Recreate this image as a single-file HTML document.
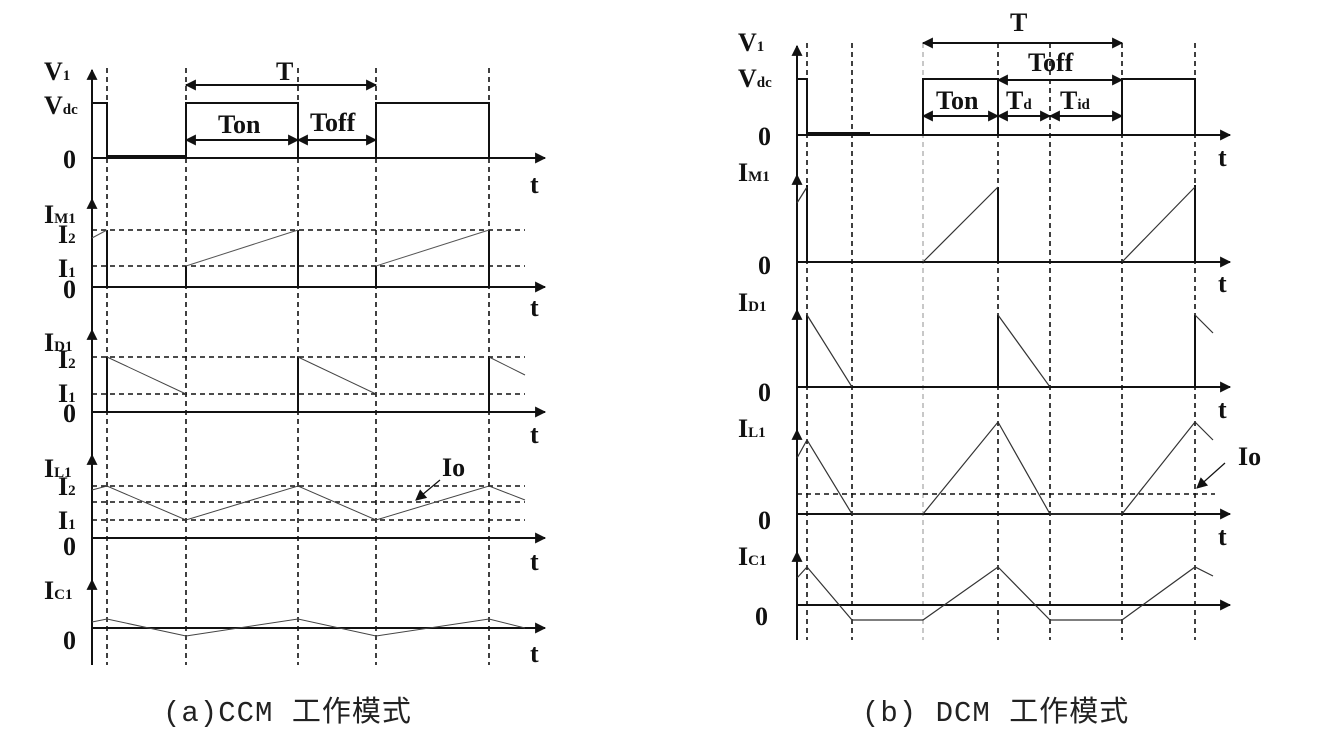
<!DOCTYPE html>
<html><head><meta charset="utf-8"><style>
html,body{margin:0;padding:0;background:#fff;}
svg{display:block;}
.l{font-family:"Liberation Serif",serif;font-weight:bold;font-size:26px;fill:#111;}
.s{font-size:15px;}
.c{font-family:"Liberation Mono","Noto Sans CJK SC",monospace;font-size:29px;fill:#222;letter-spacing:1px;}
</style></head><body>
<svg width="1336" height="734" viewBox="0 0 1336 734" xmlns="http://www.w3.org/2000/svg">
<defs>
<marker id="a" viewBox="0 0 10 10" refX="9" refY="5" markerWidth="16" markerHeight="11" markerUnits="userSpaceOnUse" orient="auto-start-reverse"><path d="M0,0L10,5L0,10z" fill="#111"/></marker>
</defs>
<g stroke="#111" stroke-width="2" fill="none">
<g stroke-dasharray="5,4" stroke-width="1.6">
<line x1="107" y1="68" x2="107" y2="665"/><line x1="186" y1="68" x2="186" y2="665"/><line x1="298" y1="68" x2="298" y2="665"/><line x1="376" y1="68" x2="376" y2="665"/><line x1="489" y1="68" x2="489" y2="665"/>
<line x1="92" y1="230" x2="525" y2="230"/><line x1="92" y1="266" x2="525" y2="266"/>
<line x1="92" y1="357" x2="525" y2="357"/><line x1="92" y1="394" x2="525" y2="394"/>
<line x1="92" y1="486" x2="525" y2="486"/><line x1="92" y1="502" x2="525" y2="502"/><line x1="92" y1="520" x2="525" y2="520"/>
</g>
<line x1="92" y1="665" x2="92" y2="70" marker-end="url(#a)"/>
<line x1="92" y1="158" x2="545" y2="158" marker-end="url(#a)"/>
<line x1="92" y1="200" x2="92" y2="199" marker-end="url(#a)"/>
<line x1="92" y1="287" x2="545" y2="287" marker-end="url(#a)"/>
<line x1="92" y1="331" x2="92" y2="330" marker-end="url(#a)"/>
<line x1="92" y1="412" x2="545" y2="412" marker-end="url(#a)"/>
<line x1="92" y1="456" x2="92" y2="455" marker-end="url(#a)"/>
<line x1="92" y1="538" x2="545" y2="538" marker-end="url(#a)"/>
<line x1="92" y1="581" x2="92" y2="580" marker-end="url(#a)"/>
<line x1="92" y1="628" x2="545" y2="628" marker-end="url(#a)"/>
<polyline points="92,103 107,103 107,158"/>
<line x1="107" y1="157" x2="186" y2="157" stroke-width="4"/>
<polyline points="186,158 186,103 298,103 298,158"/>
<polyline points="376,158 376,103 489,103 489,158"/>
<line x1="186" y1="85" x2="376" y2="85" marker-start="url(#a)" marker-end="url(#a)"/>
<line x1="186" y1="140" x2="298" y2="140" marker-start="url(#a)" marker-end="url(#a)"/>
<line x1="298" y1="140" x2="376" y2="140" marker-start="url(#a)" marker-end="url(#a)"/>
<line x1="107" y1="230" x2="107" y2="287"/><line x1="186" y1="266" x2="186" y2="287"/><line x1="298" y1="230" x2="298" y2="287"/><line x1="376" y1="266" x2="376" y2="287"/><line x1="489" y1="230" x2="489" y2="287"/>
<g stroke-width="1" stroke="#555"><line x1="92" y1="238" x2="107" y2="230"/><line x1="186" y1="266" x2="298" y2="230"/><line x1="376" y1="266" x2="489" y2="230"/></g>
<line x1="107" y1="357" x2="107" y2="412"/><line x1="298" y1="357" x2="298" y2="412"/><line x1="489" y1="357" x2="489" y2="412"/>
<g stroke-width="1" stroke="#444"><line x1="107" y1="357" x2="186" y2="394"/><line x1="298" y1="357" x2="376" y2="394"/><line x1="489" y1="357" x2="525" y2="375"/></g>
<polyline stroke-width="1" stroke="#444" points="92,490 107,486 186,520 298,486 376,520 489,486 525,500"/>
<line x1="440" y1="480" x2="416" y2="500" stroke-width="1.2" marker-end="url(#a)"/>
<polyline stroke-width="1" stroke="#444" points="92,622 107,619 186,636 298,619 376,636 489,619 525,628"/>

<g stroke-dasharray="5,4" stroke-width="1.6">
<line x1="807" y1="43" x2="807" y2="640"/><line x1="852" y1="43" x2="852" y2="640"/><line x1="923" y1="43" x2="923" y2="640" stroke="#bbb"/><line x1="998" y1="43" x2="998" y2="640"/><line x1="1050" y1="43" x2="1050" y2="640"/><line x1="1122" y1="43" x2="1122" y2="640"/><line x1="1195" y1="43" x2="1195" y2="640"/>
<line x1="797" y1="494" x2="1215" y2="494"/>
</g>
<line x1="797" y1="640" x2="797" y2="46" marker-end="url(#a)"/>
<line x1="797" y1="135" x2="1230" y2="135" marker-end="url(#a)"/>
<line x1="797" y1="176" x2="797" y2="175" marker-end="url(#a)"/>
<line x1="797" y1="262" x2="1230" y2="262" marker-end="url(#a)"/>
<line x1="797" y1="311" x2="797" y2="310" marker-end="url(#a)"/>
<line x1="797" y1="387" x2="1230" y2="387" marker-end="url(#a)"/>
<line x1="797" y1="431" x2="797" y2="430" marker-end="url(#a)"/>
<line x1="797" y1="514" x2="1230" y2="514" marker-end="url(#a)"/>
<line x1="797" y1="553" x2="797" y2="552" marker-end="url(#a)"/>
<line x1="797" y1="605" x2="1230" y2="605" marker-end="url(#a)"/>
<polyline points="797,79 807,79 807,135"/>
<line x1="807" y1="134" x2="870" y2="134" stroke-width="4"/>
<polyline points="923,135 923,79 998,79 998,135"/>
<polyline points="1122,135 1122,79 1195,79 1195,135"/>
<line x1="923" y1="43" x2="1122" y2="43" marker-start="url(#a)" marker-end="url(#a)"/>
<line x1="998" y1="80" x2="1122" y2="80" marker-start="url(#a)" marker-end="url(#a)"/>
<line x1="923" y1="116" x2="998" y2="116" marker-start="url(#a)" marker-end="url(#a)"/>
<line x1="998" y1="116" x2="1050" y2="116" marker-start="url(#a)" marker-end="url(#a)"/>
<line x1="1050" y1="116" x2="1122" y2="116" marker-start="url(#a)" marker-end="url(#a)"/>
<line x1="807" y1="185" x2="807" y2="262"/><line x1="998" y1="187" x2="998" y2="262"/><line x1="1195" y1="185" x2="1195" y2="262"/>
<g stroke-width="1.2" stroke="#333"><line x1="797" y1="203" x2="807" y2="187"/><line x1="923" y1="262" x2="998" y2="187"/><line x1="1122" y1="262" x2="1195" y2="187"/></g>
<line x1="807" y1="315" x2="807" y2="387"/><line x1="998" y1="315" x2="998" y2="387"/><line x1="1195" y1="315" x2="1195" y2="387"/>
<g stroke-width="1.2" stroke="#333"><line x1="807" y1="315" x2="852" y2="387"/><line x1="998" y1="315" x2="1050" y2="387"/><line x1="1195" y1="315" x2="1213" y2="333"/></g>
<polyline stroke-width="1.2" stroke="#333" points="797,458 807,440 852,514 923,514 998,422 1050,514 1122,514 1195,422 1213,440"/>
<line x1="1225" y1="463" x2="1197" y2="488" stroke-width="1.2" marker-end="url(#a)"/>
<polyline stroke-width="1.2" stroke="#333" points="797,578 807,567 852,620 923,620 998,567 1050,620 1122,620 1195,567 1213,576"/>
</g>
<text class="l" x="44" y="80">V<tspan class="s">1</tspan></text>
<text class="l" x="44" y="114">V<tspan class="s">dc</tspan></text>
<text class="l" x="63" y="168">0</text>
<text class="l" x="530" y="193">t</text>
<text class="l" x="276" y="80">T</text>
<text class="l" x="218" y="133">Ton</text>
<text class="l" x="310" y="131">Toff</text>
<text class="l" x="44" y="223">I<tspan class="s">M1</tspan></text>
<text class="l" x="58" y="243">I<tspan class="s">2</tspan></text>
<text class="l" x="58" y="277">I<tspan class="s">1</tspan></text>
<text class="l" x="63" y="298">0</text>
<text class="l" x="530" y="316">t</text>
<text class="l" x="44" y="351">I<tspan class="s">D1</tspan></text>
<text class="l" x="58" y="368">I<tspan class="s">2</tspan></text>
<text class="l" x="58" y="402">I<tspan class="s">1</tspan></text>
<text class="l" x="63" y="422">0</text>
<text class="l" x="530" y="443">t</text>
<text class="l" x="44" y="477">I<tspan class="s">L1</tspan></text>
<text class="l" x="58" y="495">I<tspan class="s">2</tspan></text>
<text class="l" x="58" y="529">I<tspan class="s">1</tspan></text>
<text class="l" x="63" y="555">0</text>
<text class="l" x="530" y="570">t</text>
<text class="l" x="442" y="476">Io</text>
<text class="l" x="44" y="599">I<tspan class="s">C1</tspan></text>
<text class="l" x="63" y="649">0</text>
<text class="l" x="530" y="662">t</text>
<text class="c" x="163" y="721">(a)CCM 工作模式</text>
<text class="l" x="738" y="51">V<tspan class="s">1</tspan></text>
<text class="l" x="738" y="87">V<tspan class="s">dc</tspan></text>
<text class="l" x="758" y="145">0</text>
<text class="l" x="1218" y="166">t</text>
<text class="l" x="1010" y="31">T</text>
<text class="l" x="1028" y="71">Toff</text>
<text class="l" x="936" y="109">Ton</text>
<text class="l" x="1006" y="109">T<tspan class="s">d</tspan></text>
<text class="l" x="1060" y="109">T<tspan class="s">id</tspan></text>
<text class="l" x="738" y="181">I<tspan class="s">M1</tspan></text>
<text class="l" x="758" y="274">0</text>
<text class="l" x="1218" y="292">t</text>
<text class="l" x="738" y="311">I<tspan class="s">D1</tspan></text>
<text class="l" x="758" y="401">0</text>
<text class="l" x="1218" y="418">t</text>
<text class="l" x="738" y="437">I<tspan class="s">L1</tspan></text>
<text class="l" x="758" y="529">0</text>
<text class="l" x="1218" y="545">t</text>
<text class="l" x="1238" y="465">Io</text>
<text class="l" x="738" y="565">I<tspan class="s">C1</tspan></text>
<text class="l" x="755" y="625">0</text>
<text class="c" x="862" y="721">(b) DCM 工作模式</text>
</svg>
</body></html>
